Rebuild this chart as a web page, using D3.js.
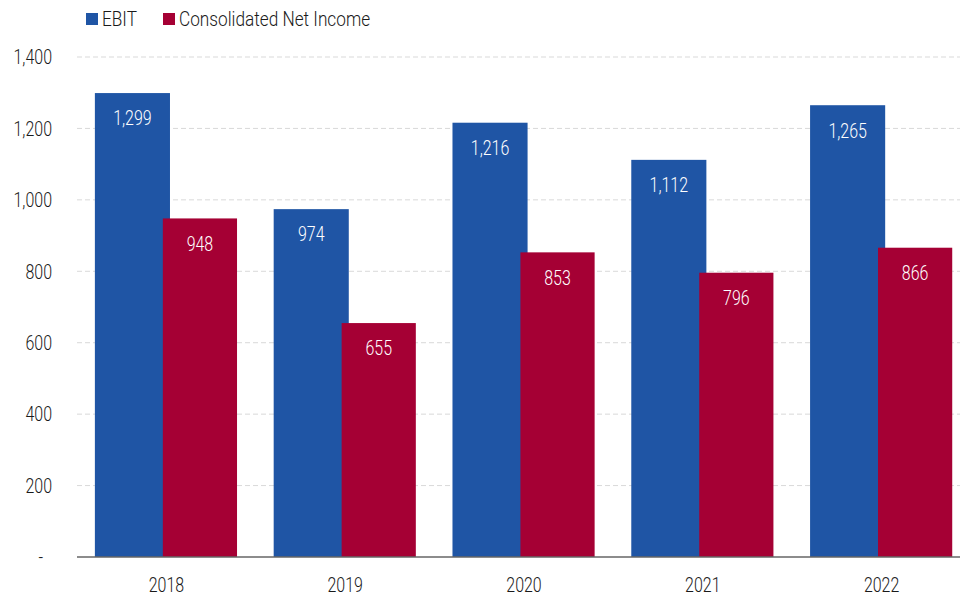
<!DOCTYPE html>
<html>
<head>
<meta charset="utf-8">
<script src="https://cdn.jsdelivr.net/npm/d3@7"></script>
<style>
  body { margin: 0; background: #fff; }
  svg text { font-family: Roboto, "DejaVu Sans", sans-serif; font-weight: 300; }
</style>
</head>
<body>
<div id="chart"></div>
<script>
const years = ["2018", "2019", "2020", "2021", "2022"];
const ebit = [1299, 974, 1216, 1112, 1265];
const netIncome = [948, 655, 853, 796, 866];
const yTicks = [0, 200, 400, 600, 800, 1000, 1200, 1400];
const seriesNames = ["EBIT", "Consolidated Net Income"];
const colors = ["#1f55a5", "#a50034"];

const width = 967, height = 597;
const plot = { left: 77, right: 960, top: 57, bottom: 557 };
const fontSize = 21;

const svg = d3.select("#chart")
  .append("svg")
  .attr("width", width)
  .attr("height", height);

const x = d3.scaleBand()
  .domain(years)
  .range([plot.left, 971])
  .padding(0);

const y = d3.scaleLinear()
  .domain([0, 1400])
  .range([plot.bottom, plot.top]);

const fmt = d3.format(",");

// gridlines
svg.append("g")
  .selectAll("line")
  .data(yTicks.filter(d => d > 0))
  .join("line")
  .attr("x1", plot.left)
  .attr("x2", plot.right)
  .attr("y1", d => y(d))
  .attr("y2", d => y(d))
  .attr("stroke", "#d9d9d9")
  .attr("stroke-width", 1)
  .attr("stroke-dasharray", "5,3");

// y tick labels (zero shown as an accounting dash, set in a bit)
svg.append("g")
  .selectAll("text")
  .data(yTicks)
  .join("text")
  .attr("class", "num")
  .attr("x", d => d === 0 ? 43 : 52)
  .attr("y", d => y(d))
  .attr("dy", "0.35em")
  .attr("text-anchor", "end")
  .attr("font-size", fontSize)
  .attr("fill", "#1a1a1a")
  .text(d => d === 0 ? "-" : fmt(d));

const bw = x.bandwidth();

// EBIT bars
svg.append("g")
  .selectAll("rect")
  .data(years)
  .join("rect")
  .attr("x", d => x(d) + bw * 0.1)
  .attr("width", bw * 0.42)
  .attr("y", (d, i) => y(ebit[i]))
  .attr("height", (d, i) => y(0) - y(ebit[i]))
  .attr("fill", colors[0]);

// Net income bars (drawn on top, overlapping)
svg.append("g")
  .selectAll("rect")
  .data(years)
  .join("rect")
  .attr("x", d => x(d) + bw * 0.48)
  .attr("width", bw * 0.415)
  .attr("y", (d, i) => y(netIncome[i]))
  .attr("height", (d, i) => y(0) - y(netIncome[i]))
  .attr("fill", colors[1]);

// value labels
svg.append("g")
  .selectAll("text")
  .data(years)
  .join("text")
  .attr("class", "num")
  .attr("x", d => x(d) + bw * (0.1 + 0.21))
  .attr("y", (d, i) => y(ebit[i]) + 25)
  .attr("dy", "0.35em")
  .attr("text-anchor", "middle")
  .attr("font-size", fontSize)
  .attr("fill", "#fff")
  .text((d, i) => fmt(ebit[i]));

svg.append("g")
  .selectAll("text")
  .data(years)
  .join("text")
  .attr("class", "num")
  .attr("x", d => x(d) + bw * (0.48 + 0.2075))
  .attr("y", (d, i) => y(netIncome[i]) + 25)
  .attr("dy", "0.35em")
  .attr("text-anchor", "middle")
  .attr("font-size", fontSize)
  .attr("fill", "#fff")
  .text((d, i) => fmt(netIncome[i]));

// baseline
svg.append("line")
  .attr("x1", plot.left)
  .attr("x2", plot.right)
  .attr("y1", y(0))
  .attr("y2", y(0))
  .attr("stroke", "#666")
  .attr("stroke-width", 1.5);

// x labels
svg.append("g")
  .selectAll("text")
  .data(years)
  .join("text")
  .attr("class", "num")
  .attr("x", d => x(d) + bw / 2)
  .attr("y", 585)
  .attr("dy", "0.35em")
  .attr("text-anchor", "middle")
  .attr("font-size", fontSize)
  .attr("fill", "#1a1a1a")
  .text(d => d);

// legend
const legendX = [86, 163];
const legend = svg.append("g")
  .selectAll("g")
  .data(seriesNames)
  .join("g")
  .attr("transform", (d, i) => `translate(${legendX[i]},13)`);

legend.append("rect")
  .attr("width", 12)
  .attr("height", 12)
  .attr("fill", (d, i) => colors[i]);

legend.append("text")
  .attr("class", "word")
  .attr("x", 16)
  .attr("y", 6)
  .attr("dy", "0.35em")
  .attr("font-size", fontSize)
  .attr("fill", "#1a1a1a")
  .text(d => d);

// the original uses a condensed face, so squeeze the glyphs horizontally
function squeeze(sel, k) {
  sel.each(function () {
    const w = this.getComputedTextLength();
    d3.select(this)
      .attr("textLength", w * k)
      .attr("lengthAdjust", "spacingAndGlyphs");
  });
}
squeeze(svg.selectAll("text.num"), 0.76);
squeeze(svg.selectAll("text.word"), 0.82);
</script>
</body>
</html>
